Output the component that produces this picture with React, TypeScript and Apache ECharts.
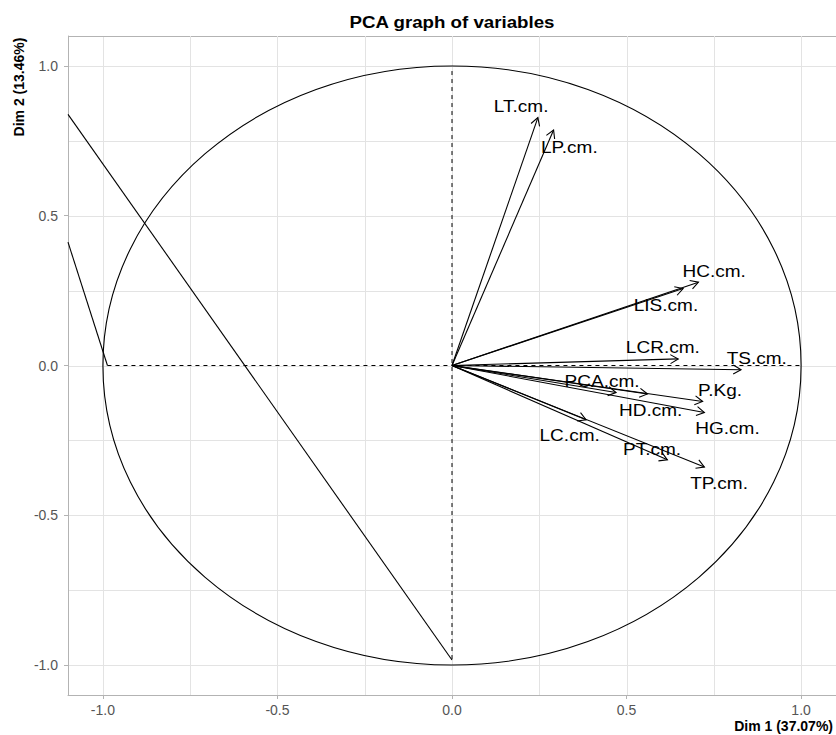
import React, { useEffect, useRef } from "react";
import * as echarts from "echarts";

// ---- data ----
const xTickValues = [-1, -0.5, 0, 0.5, 1];
const yTickValues = [-1, -0.5, 0, 0.5, 1];
const gridValues = [-1, -0.75, -0.5, -0.25, 0, 0.25, 0.5, 0.75, 1];

const varNames = ["LT.cm.", "LP.cm.", "HC.cm.", "LIS.cm.", "LCR.cm.", "TS.cm.", "PCA.cm.", "HD.cm.", "P.Kg.", "HG.cm.", "LC.cm.", "PT.cm.", "TP.cm."];
const varDim1 = [0.246, 0.291, 0.706, 0.662, 0.648, 0.828, 0.470, 0.560, 0.718, 0.723, 0.384, 0.617, 0.723];
const varDim2 = [0.8275, 0.786, 0.278, 0.257, 0.022, -0.014, -0.090, -0.095, -0.120, -0.157, -0.181, -0.315, -0.339];
const labelDim1 = [0.198, 0.336, 0.751, 0.613, 0.604, 0.873, 0.430, 0.569, 0.768, 0.789, 0.337, 0.573, 0.765];
const labelDim2 = [0.865, 0.728, 0.315, 0.201, 0.062, 0.025, -0.053, -0.150, -0.083, -0.211, -0.233, -0.279, -0.395];

const horizontalRef = [[-0.987, 0], [1.0, 0]];
const verticalRef = [[0, 0.983], [0, -0.983]];
const strayLineA = [[-1.1, 0.8385], [0, -0.983]];
const strayLineB = [[-1.1, 0.4117], [-0.987, 0]];

const xTitle = "Dim 1 (37.07%)";
const yTitle = "Dim 2 (13.46%)";
const chartTitle = "PCA graph of variables";

const FONT = "'Liberation Sans', Arial, Helvetica, sans-serif";

export default function App() {
  const ref = useRef<HTMLDivElement>(null);

  useEffect(() => {
    if (!ref.current) return;
    const chart = echarts.init(ref.current, null, { renderer: "svg" });

    const option: any = {
      animation: false,
      backgroundColor: "#ffffff",
      grid: { left: 68, top: 36, width: 769, height: 659 },
      xAxis: {
        type: "value",
        min: -1.1,
        max: 1.1,
        splitLine: { show: false },
        axisLine: { show: true, onZero: false, lineStyle: { color: "#b3b3b3", width: 1 } },
        axisTick: { show: true, customValues: xTickValues, length: 4, lineStyle: { color: "#b3b3b3" } },
        axisLabel: {
          customValues: xTickValues,
          formatter: (v: number) => v.toFixed(1),
          color: "#555555",
          fontSize: 14,
          fontFamily: FONT,
          margin: 8,
        },
      },
      yAxis: {
        type: "value",
        min: -1.1,
        max: 1.1,
        splitLine: { show: false },
        axisLine: { show: true, onZero: false, lineStyle: { color: "#b3b3b3", width: 1 } },
        axisTick: { show: true, customValues: yTickValues, length: 4, lineStyle: { color: "#b3b3b3" } },
        axisLabel: {
          customValues: yTickValues,
          formatter: (v: number) => v.toFixed(1),
          color: "#555555",
          fontSize: 14,
          fontFamily: FONT,
          margin: 10,
        },
      },
      graphic: [
        {
          type: "text",
          x: 452,
          y: 22,
          scaleX: 1.1,
          style: {
            text: chartTitle,
            fontSize: 17,
            fontWeight: "bold",
            fontFamily: FONT,
            fill: "#000",
            align: "center",
            verticalAlign: "middle",
          },
        },
        {
          type: "text",
          x: 19,
          y: 87,
          rotation: Math.PI / 2,
          style: {
            text: yTitle,
            fontSize: 14,
            fontWeight: "bold",
            fontFamily: FONT,
            fill: "#000",
            align: "center",
            verticalAlign: "middle",
          },
        },
        {
          type: "text",
          x: 833,
          y: 726,
          style: {
            text: xTitle,
            fontSize: 14,
            fontWeight: "bold",
            fontFamily: FONT,
            fill: "#000",
            align: "right",
            verticalAlign: "middle",
          },
        },
      ],
      series: [
        {
          type: "custom",
          silent: true,
          z: 0,
          data: gridValues.map((v) => [v, v]),
          renderItem: (params: any, api: any) => {
            const cs = params.coordSys;
            const v = api.value(0);
            const px = Math.round(api.coord([v, 0])[0]) + 0.5;
            const py = Math.round(api.coord([0, v])[1]) + 0.5;
            const children: any[] = [
              { type: "line", shape: { x1: px, y1: cs.y, x2: px, y2: cs.y + cs.height }, style: { stroke: "#e3e3e3", lineWidth: 1 } },
              { type: "line", shape: { x1: cs.x, y1: py, x2: cs.x + cs.width, y2: py }, style: { stroke: "#e3e3e3", lineWidth: 1 } },
            ];
            if (params.dataIndex === 0) {
              const ty = Math.round(cs.y) + 0.5;
              children.push({ type: "line", shape: { x1: cs.x, y1: ty, x2: cs.x + cs.width, y2: ty }, style: { stroke: "#b3b3b3", lineWidth: 1 } });
            }
            return { type: "group", children };
          },
        },
        {
          type: "custom",
          silent: true,
          z: 2,
          data: [[0, 0]],
          renderItem: (params: any, api: any) => {
            const c = api.coord([0, 0]);
            const r = api.coord([1, 1]);
            return {
              type: "ellipse",
              shape: { cx: c[0], cy: c[1], rx: Math.abs(r[0] - c[0]), ry: Math.abs(c[1] - r[1]) },
              style: { stroke: "#000", fill: "none", lineWidth: 1.1 },
            };
          },
        },
        {
          type: "line",
          data: horizontalRef,
          symbol: "none",
          silent: true,
          z: 3,
          lineStyle: { color: "#000", width: 1, type: [4, 4] },
        },
        {
          type: "line",
          data: verticalRef,
          symbol: "none",
          silent: true,
          z: 3,
          lineStyle: { color: "#000", width: 1, type: [4, 4] },
        },
        {
          type: "line",
          data: strayLineA,
          symbol: "none",
          silent: true,
          z: 3,
          lineStyle: { color: "#000", width: 1.1 },
        },
        {
          type: "line",
          data: strayLineB,
          symbol: "none",
          silent: true,
          z: 3,
          lineStyle: { color: "#000", width: 1.1 },
        },
        {
          type: "custom",
          silent: true,
          z: 5,
          data: varDim1.map((x, i) => [x, varDim2[i], labelDim1[i], labelDim2[i]]),
          renderItem: (params: any, api: any) => {
            const o = api.coord([0, 0]);
            const t = api.coord([api.value(0), api.value(1)]);
            const ang = Math.atan2(t[1] - o[1], t[0] - o[0]);
            const L = 9;
            const a = Math.PI / 6;
            const h1 = [t[0] - L * Math.cos(ang - a), t[1] - L * Math.sin(ang - a)];
            const h2 = [t[0] - L * Math.cos(ang + a), t[1] - L * Math.sin(ang + a)];
            const lp = api.coord([api.value(2), api.value(3)]);
            return {
              type: "group",
              children: [
                { type: "line", shape: { x1: o[0], y1: o[1], x2: t[0], y2: t[1] }, style: { stroke: "#000", lineWidth: 1.1 } },
                { type: "polyline", shape: { points: [h1, t, h2] }, style: { stroke: "#000", fill: "none", lineWidth: 1.1 } },
                {
                  type: "text",
                  x: lp[0],
                  y: lp[1],
                  scaleX: 1.12,
                  style: {
                    text: varNames[params.dataIndex],
                    fontSize: 17,
                    fontFamily: FONT,
                    fill: "#000",
                    align: "center",
                    verticalAlign: "middle",
                  },
                },
              ],
            };
          },
        },
      ],
    };

    chart.setOption(option);
    return () => chart.dispose();
  }, []);

  return (
    <div
      ref={ref}
      style={{ position: "fixed", left: 0, top: 0, width: 836, height: 735, background: "#fff" }}
    />
  );
}
